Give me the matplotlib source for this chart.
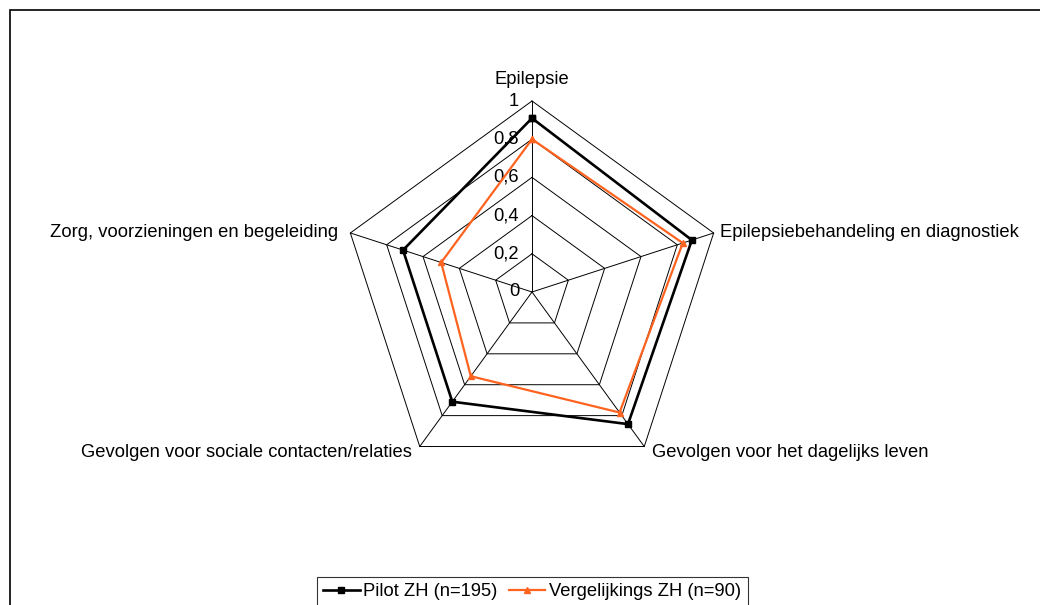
import numpy as np
import matplotlib.pyplot as plt
from matplotlib.patches import Rectangle

plt.rcParams['font.family'] = ['Liberation Sans', 'DejaVu Sans']

# data
categories = ["Epilepsie", "Epilepsiebehandeling en diagnostiek",
              "Gevolgen voor het dagelijks leven",
              "Gevolgen voor sociale contacten/relaties",
              "Zorg, voorzieningen en begeleiding"]
pilot = [0.91, 0.88, 0.855, 0.71, 0.71]
vergelijk = [0.80, 0.83, 0.78, 0.545, 0.50]
ticks = [0, 0.2, 0.4, 0.6, 0.8, 1.0]
tick_labels = ["0", "0,2", "0,4", "0,6", "0,8", "1"]
series_names = ["Pilot ZH (n=195)", "Vergelijkings ZH (n=90)"]

W, H = 1040, 605
cx, cy, R = 532, 292, 191
a, b = 2.7, 1.5
fs = 13.2

fig = plt.figure(figsize=(W / 100, H / 100), dpi=100)
ax = fig.add_axes([(cx - R * a) / W, (H - cy - R * b) / H, 2 * R * a / W, 2 * R * b / H])
ax.set_xlim(-a, a)
ax.set_ylim(-b, b)
ax.axis('off')

n = len(categories)
ang = np.arange(n) * 2 * np.pi / n


def xy(vals):
    vals = np.asarray(vals)
    x = vals * np.sin(ang)
    y = vals * np.cos(ang)
    return np.append(x, x[0]), np.append(y, y[0])


# grid pentagons and spokes
for t in ticks[1:]:
    gx, gy = xy([t] * n)
    ax.plot(gx, gy, color='black', lw=0.7, zorder=1)
for i in range(n):
    ax.plot([0, np.sin(ang[i])], [0, np.cos(ang[i])], color='black', lw=0.7, zorder=1)

# tick labels
for t, lab in zip(ticks, tick_labels):
    ax.text(-13 / R, t, lab, ha='right', va='center', fontsize=fs)

# category labels
ax.text(0, 1.11, categories[0], ha='center', va='center', fontsize=fs)
ax.text(np.sin(ang[1]) + 6 / R, np.cos(ang[1]), categories[1], ha='left', va='center', fontsize=fs)
ax.text(np.sin(ang[2]) + 8 / R, np.cos(ang[2]) - 6 / R, categories[2], ha='left', va='center', fontsize=fs)
ax.text(np.sin(ang[3]) - 8 / R, np.cos(ang[3]) - 6 / R, categories[3], ha='right', va='center', fontsize=fs)
ax.text(np.sin(ang[4]) - 12 / R, np.cos(ang[4]), categories[4], ha='right', va='center', fontsize=fs)

# series
px, py = xy(pilot)
ax.plot(px, py, color='black', lw=1.9, marker='s', ms=4.5, label=series_names[0], zorder=3)
vx, vy = xy(vergelijk)
ax.plot(vx, vy, color='#FF6320', lw=1.6, marker='^', ms=5, label=series_names[1], zorder=3)

leg = fig.legend(loc='upper center', bbox_to_anchor=(532 / W, (H - 577) / H), ncol=2,
                 fontsize=fs, frameon=True, fancybox=False, edgecolor='black',
                 handlelength=2.0, handletextpad=0.2, columnspacing=0.6,
                 borderpad=0.35, borderaxespad=0)
leg.get_frame().set_linewidth(0.8)

# outer chart border
fig.patches.append(Rectangle((10 / W, -0.1), 1.2, 1 - 10 / H + 0.1, transform=fig.transFigure,
                             fill=False, edgecolor='black', lw=1.2))

fig.savefig('out.png', dpi=100)
